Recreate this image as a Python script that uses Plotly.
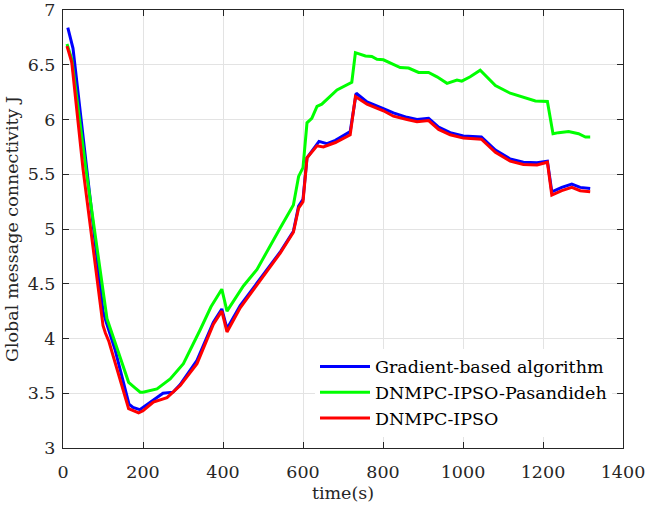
import plotly.graph_objects as go

# ---- data ----
t_grad = [12, 25, 60, 100, 108, 130, 165, 175, 192, 220, 250, 275, 293, 335, 376, 397, 410, 443, 545, 576, 589, 600, 610, 640, 660, 681, 718, 733, 760, 801, 826, 860, 885, 914, 939, 968, 1001, 1046, 1081, 1118, 1151, 1185, 1211, 1222, 1247, 1272, 1293, 1318]
j_grad = [6.84, 6.65, 5.53, 4.25, 4.15, 3.90, 3.40, 3.37, 3.35, 3.42, 3.50, 3.51, 3.58, 3.80, 4.15, 4.27, 4.09, 4.30, 4.80, 4.98, 5.21, 5.27, 5.65, 5.80, 5.78, 5.81, 5.89, 6.24, 6.16, 6.10, 6.06, 6.02, 6.00, 6.01, 5.93, 5.88, 5.85, 5.84, 5.72, 5.64, 5.61, 5.605, 5.62, 5.34, 5.38, 5.41, 5.38, 5.37]

t_pas = [10, 22, 58, 93, 110, 126, 164, 180, 193, 200, 235, 268, 301, 343, 370, 397, 410, 451, 485, 543, 576, 589, 600, 610, 622, 635, 647, 685, 722, 731, 756, 772, 785, 801, 843, 864, 889, 914, 935, 960, 985, 997, 1018, 1043, 1081, 1118, 1143, 1181, 1211, 1225, 1239, 1264, 1289, 1306, 1318]
j_pas = [6.69, 6.55, 5.53, 4.65, 4.18, 4.01, 3.60, 3.55, 3.51, 3.51, 3.54, 3.63, 3.77, 4.08, 4.29, 4.45, 4.25, 4.48, 4.63, 5.01, 5.22, 5.48, 5.56, 5.97, 6.01, 6.12, 6.14, 6.27, 6.34, 6.61, 6.58, 6.575, 6.55, 6.545, 6.475, 6.47, 6.43, 6.43, 6.39, 6.33, 6.36, 6.35, 6.39, 6.45, 6.31, 6.24, 6.21, 6.17, 6.165, 5.87, 5.88, 5.89, 5.87, 5.84, 5.84]

t_ipso = [10, 22, 50, 100, 106, 115, 164, 175, 189, 200, 226, 260, 293, 335, 376, 397, 410, 443, 543, 576, 589, 600, 610, 635, 651, 681, 718, 731, 760, 801, 826, 860, 885, 914, 939, 968, 1001, 1046, 1081, 1118, 1151, 1185, 1211, 1222, 1247, 1272, 1293, 1318]
j_ipso = [6.67, 6.52, 5.55, 4.12, 4.05, 3.97, 3.36, 3.34, 3.32, 3.34, 3.42, 3.46, 3.57, 3.77, 4.13, 4.25, 4.06, 4.28, 4.78, 4.97, 5.19, 5.25, 5.65, 5.76, 5.75, 5.79, 5.86, 6.21, 6.14, 6.08, 6.03, 6.00, 5.98, 5.99, 5.91, 5.86, 5.83, 5.82, 5.70, 5.62, 5.59, 5.585, 5.61, 5.31, 5.35, 5.38, 5.35, 5.34]

names = ["Gradient-based algorithm", "DNMPC-IPSO-Pasandideh", "DNMPC-IPSO"]
x_ticks = [0, 200, 400, 600, 800, 1000, 1200, 1400]
y_ticks = [3, 3.5, 4, 4.5, 5, 5.5, 6, 6.5, 7]
y_tick_text = ["3", "3.5", "4", "4.5", "5", "5.5", "6", "6.5", "7"]

FONT = "DejaVu Serif"
FS = 17.5
fig = go.Figure()
fig.add_trace(go.Scatter(x=t_grad, y=j_grad, mode="lines", name=names[0],
                         line=dict(color="#0000ff", width=3)))
fig.add_trace(go.Scatter(x=t_pas, y=j_pas, mode="lines", name=names[1],
                         line=dict(color="#00ff00", width=3)))
fig.add_trace(go.Scatter(x=t_ipso, y=j_ipso, mode="lines", name=names[2],
                         line=dict(color="#ff0000", width=3)))

axis_common = dict(showgrid=True, gridcolor="#e3e3e3", gridwidth=1,
                   showline=True, linecolor="#262626", linewidth=1, mirror="ticks",
                   ticks="inside", ticklen=6, tickcolor="#262626", zeroline=False,
                   automargin=False, ticklabeloverflow="allow",
                   tickfont=dict(family=FONT, size=FS, color="#262626"))

fig.update_layout(
    width=646, height=511,
    margin=dict(l=63, r=23, t=10, b=63),
    paper_bgcolor="white", plot_bgcolor="white",
    font=dict(family=FONT, size=FS, color="#262626"),
    xaxis=dict(range=[0, 1400], tickvals=x_ticks, ticklabelstandoff=8,
               title=dict(text="time(s)", font=dict(family=FONT, size=FS), standoff=5),
               **axis_common),
    yaxis=dict(range=[3, 7], tickvals=y_ticks, ticktext=y_tick_text, ticklabelstandoff=3,
               title=dict(text="Global message connectivity J", font=dict(family=FONT, size=FS), standoff=4),
               **axis_common),
    legend=dict(x=0.45, y=0.227, xanchor="left", yanchor="top",
                bgcolor="rgba(255,255,255,1)", borderwidth=0,
                font=dict(family=FONT, size=FS, color="#000000"),
                itemwidth=50, tracegroupgap=0),
    showlegend=True,
)

fig.write_html("out.html", config={"displayModeBar": False},
               post_script="document.body.style.margin='0';")
